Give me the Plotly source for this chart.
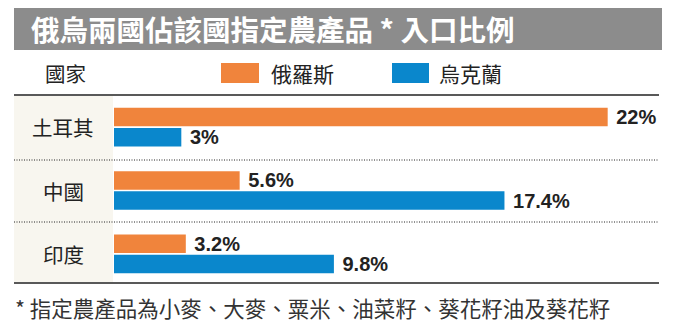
import plotly.graph_objects as go

# Data
countries = ["土耳其", "中國", "印度"]
russia_share = [22, 5.6, 3.2]
ukraine_share = [3, 17.4, 9.8]
series_names = ["俄羅斯", "烏克蘭"]
series_colors = ["#F0843C", "#0A87CC"]

title_text = "俄烏兩國佔該國指定農產品 * 入口比例"
header_text = "國家"
footnote_text = "* 指定農產品為小麥、大麥、粟米、油菜籽、葵花籽油及葵花籽"

W, H = 675, 332
CJK = "Noto Sans CJK TC, Noto Sans CJK SC, sans-serif"
NUM = "Liberation Sans, Arial, sans-serif"


def px(x):
    return x / W


def py(y):
    return (H - y) / H


fig = go.Figure()
for name, vals, color in zip(series_names, [russia_share, ukraine_share], series_colors):
    fig.add_trace(go.Bar(
        y=countries,
        x=vals,
        name=name,
        orientation="h",
        marker=dict(color=color, line=dict(width=0)),
        texttemplate="<b>\u00a0%{x}%</b>",
        textposition="outside",
        constraintext="none",
        cliponaxis=False,
        textfont=dict(family=NUM, size=20, color="#222222"),
        hoverinfo="skip",
        showlegend=False,
    ))

shapes = []
# title band
shapes.append(dict(type="rect", xref="paper", yref="paper",
                   x0=px(14), x1=px(662), y0=py(50), y1=py(8),
                   fillcolor="#8C8C8C", line=dict(width=0), layer="below"))
# country column background
shapes.append(dict(type="rect", xref="paper", yref="paper",
                   x0=px(14), x1=px(113), y0=py(282), y1=py(96),
                   fillcolor="#F8F6EF", line=dict(width=0), layer="below"))
# rules
for yy, dash in [(95, "solid"), (160, "1px,1.5px"), (222, "1px,1.5px"), (283, "solid")]:
    shapes.append(dict(type="line", xref="paper", yref="paper",
                       x0=px(14), x1=px(659), y0=py(yy), y1=py(yy),
                       line=dict(color="#222222", width=1.5 if dash == "solid" else 1, dash=dash)))
# legend swatches
swatch_x = [(221, 259), (392, 429)]
for (x0, x1), color in zip(swatch_x, series_colors):
    shapes.append(dict(type="rect", xref="paper", yref="paper",
                       x0=px(x0), x1=px(x1), y0=py(83), y1=py(63),
                       fillcolor=color, line=dict(width=0)))

annotations = []
annotations.append(dict(text="<b>" + title_text + "</b>", x=px(29), y=py(29),
                        xref="paper", yref="paper", xanchor="left", yanchor="middle",
                        showarrow=False, font=dict(family=CJK, size=28.5, color="white")))
annotations.append(dict(text=header_text, x=px(43), y=py(73),
                        xref="paper", yref="paper", xanchor="left", yanchor="middle",
                        showarrow=False, font=dict(family=CJK, size=20.5, color="#222222")))
for name, lx in zip(series_names, [269, 437]):
    annotations.append(dict(text=name, x=px(lx), y=py(73),
                            xref="paper", yref="paper", xanchor="left", yanchor="middle",
                            showarrow=False, font=dict(family=CJK, size=21, color="#222222")))
for c in countries:
    annotations.append(dict(text=c, x=px(63), y=c, xref="paper", yref="y",
                            xanchor="center", yanchor="middle", showarrow=False,
                            font=dict(family=CJK, size=20.5, color="#222222")))
annotations.append(dict(text=footnote_text, x=px(13), y=py(307),
                        xref="paper", yref="paper", xanchor="left", yanchor="middle",
                        showarrow=False, font=dict(family=CJK, size=21.5, color="#333333")))

fig.update_layout(
    width=W, height=H, autosize=False,
    margin=dict(l=0, r=0, t=0, b=0),
    paper_bgcolor="white", plot_bgcolor="rgba(0,0,0,0)",
    barmode="group", bargap=0.365, bargroupgap=0.08,
    xaxis=dict(domain=[px(114), 1], range=[0, 25], visible=False, fixedrange=True),
    yaxis=dict(domain=[py(285.5), py(95.5)], categoryorder="array", categoryarray=countries,
               range=[2.5, -0.5], visible=False, fixedrange=True),
    shapes=shapes,
    annotations=annotations,
)

fig.write_html("out.html")
